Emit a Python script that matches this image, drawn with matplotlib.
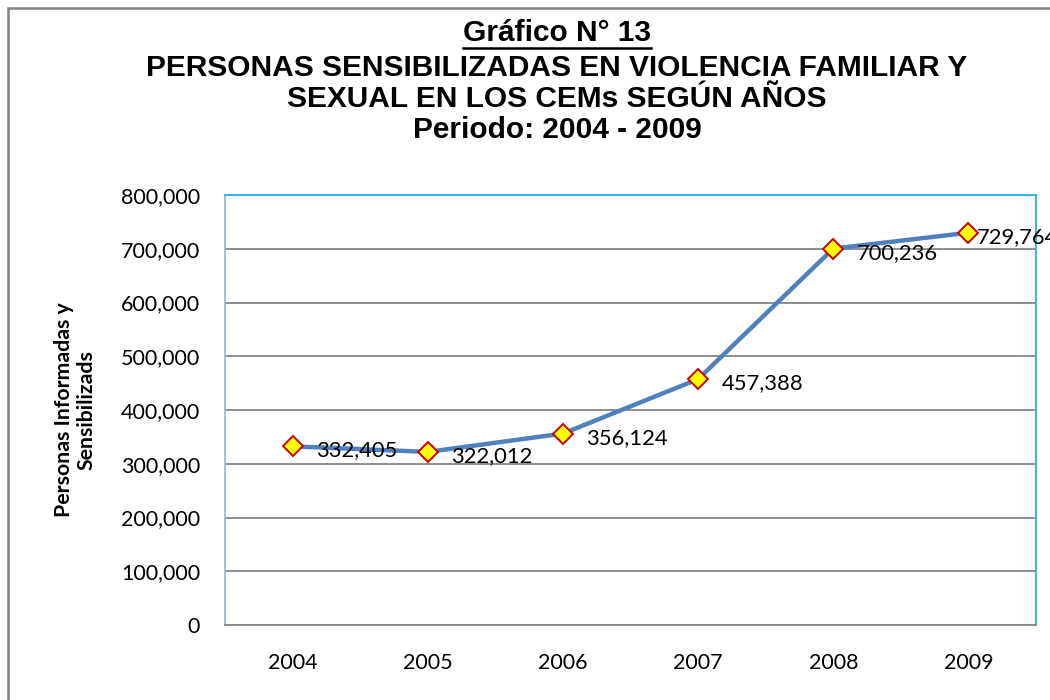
import matplotlib
matplotlib.use("Agg")
import matplotlib.pyplot as plt
from matplotlib.patches import Rectangle
from matplotlib.lines import Line2D
from matplotlib.ticker import FuncFormatter

years = ["2004", "2005", "2006", "2007", "2008", "2009"]
personas = [332405, 322012, 356124, 457388, 700236, 729764]
y_ticks = [0, 100000, 200000, 300000, 400000, 500000, 600000, 700000, 800000]

title_top = "Gráfico N° 13"
title_rest = ("PERSONAS SENSIBILIZADAS EN VIOLENCIA FAMILIAR Y\n"
              "SEXUAL EN LOS CEMs SEGÚN AÑOS\nPeriodo: 2004 - 2009")
ylabel = "Personas Informadas y\nSensibilizads"

body_font = ["Lato", "DejaVu Sans"]
head_font = ["Liberation Sans", "DejaVu Sans"]

fig = plt.figure(figsize=(10.5, 7), dpi=100)
W, H = 1050, 700

# outer chart frame (extends past the right/bottom edge)
fig.patches.append(Rectangle((8 / W, -0.1), 1.2, 1 - 8 / H + 0.1, transform=fig.transFigure,
                             fill=False, edgecolor="#808080", lw=1.8))

ax = fig.add_axes([225 / W, 1 - 625 / H, (1036 - 225) / W, (625 - 195) / H])
x = list(range(len(years)))
ax.plot(x, personas, color="#4F81BD", lw=3.2, marker="D", markersize=10.5,
        markerfacecolor="#FFFF00", markeredgecolor="#CC0000", markeredgewidth=1.4,
        zorder=3, clip_on=False)
for xi, v in zip(x, personas):
    dx = 6 if xi == len(years) - 1 else 17  # last label squeezed against the edge
    ax.annotate(f"{v:,}", (xi, v), xytext=(dx, -3), textcoords="offset points",
                ha="left", va="center", fontsize=15.8, family=body_font, annotation_clip=False)

ax.set_xlim(-0.5, len(years) - 0.5)
ax.set_ylim(0, 800000)
ax.set_yticks(y_ticks)
ax.yaxis.set_major_formatter(FuncFormatter(lambda v, p: f"{int(v):,}"))
ax.set_xticks(x)
ax.set_xticklabels(years)
ax.tick_params(axis="both", length=0, labelsize=15.5)
ax.tick_params(axis="y", pad=18)
ax.tick_params(axis="x", pad=20)
for lab in ax.get_xticklabels() + ax.get_yticklabels():
    lab.set_family(body_font)
ax.grid(axis="y", color="#868686", lw=1.3)
ax.set_axisbelow(True)
for side in ["top", "right", "left"]:
    ax.spines[side].set_color("#1FB4EA")
    ax.spines[side].set_linewidth(1.3)
ax.spines["left"].set_color("#9FB8C8")
ax.spines["bottom"].set_color("#868686")
ax.spines["bottom"].set_linewidth(1.3)

fig.text(75 / W, 1 - 410 / H, ylabel, rotation=90, ha="center", va="center",
         fontsize=15.3, fontweight="bold", family=body_font, linespacing=1.15)

cx = 557 / W
t1 = fig.text(cx, 1 - 33 / H, title_top, ha="center", va="center",
              fontsize=21.5, fontweight="bold", family=head_font)
fig.text(cx, 1 - 99 / H, title_rest, ha="center", va="center",
         fontsize=21.5, fontweight="bold", family=head_font, linespacing=1.15)

# underline for the first title line
fig.canvas.draw()
bb = t1.get_window_extent().transformed(fig.transFigure.inverted())
fig.add_artist(Line2D([bb.x0, bb.x1], [bb.y0 - 0.001, bb.y0 - 0.001],
                      transform=fig.transFigure, color="black", lw=1.8))

fig.savefig("out.png", dpi=100)
